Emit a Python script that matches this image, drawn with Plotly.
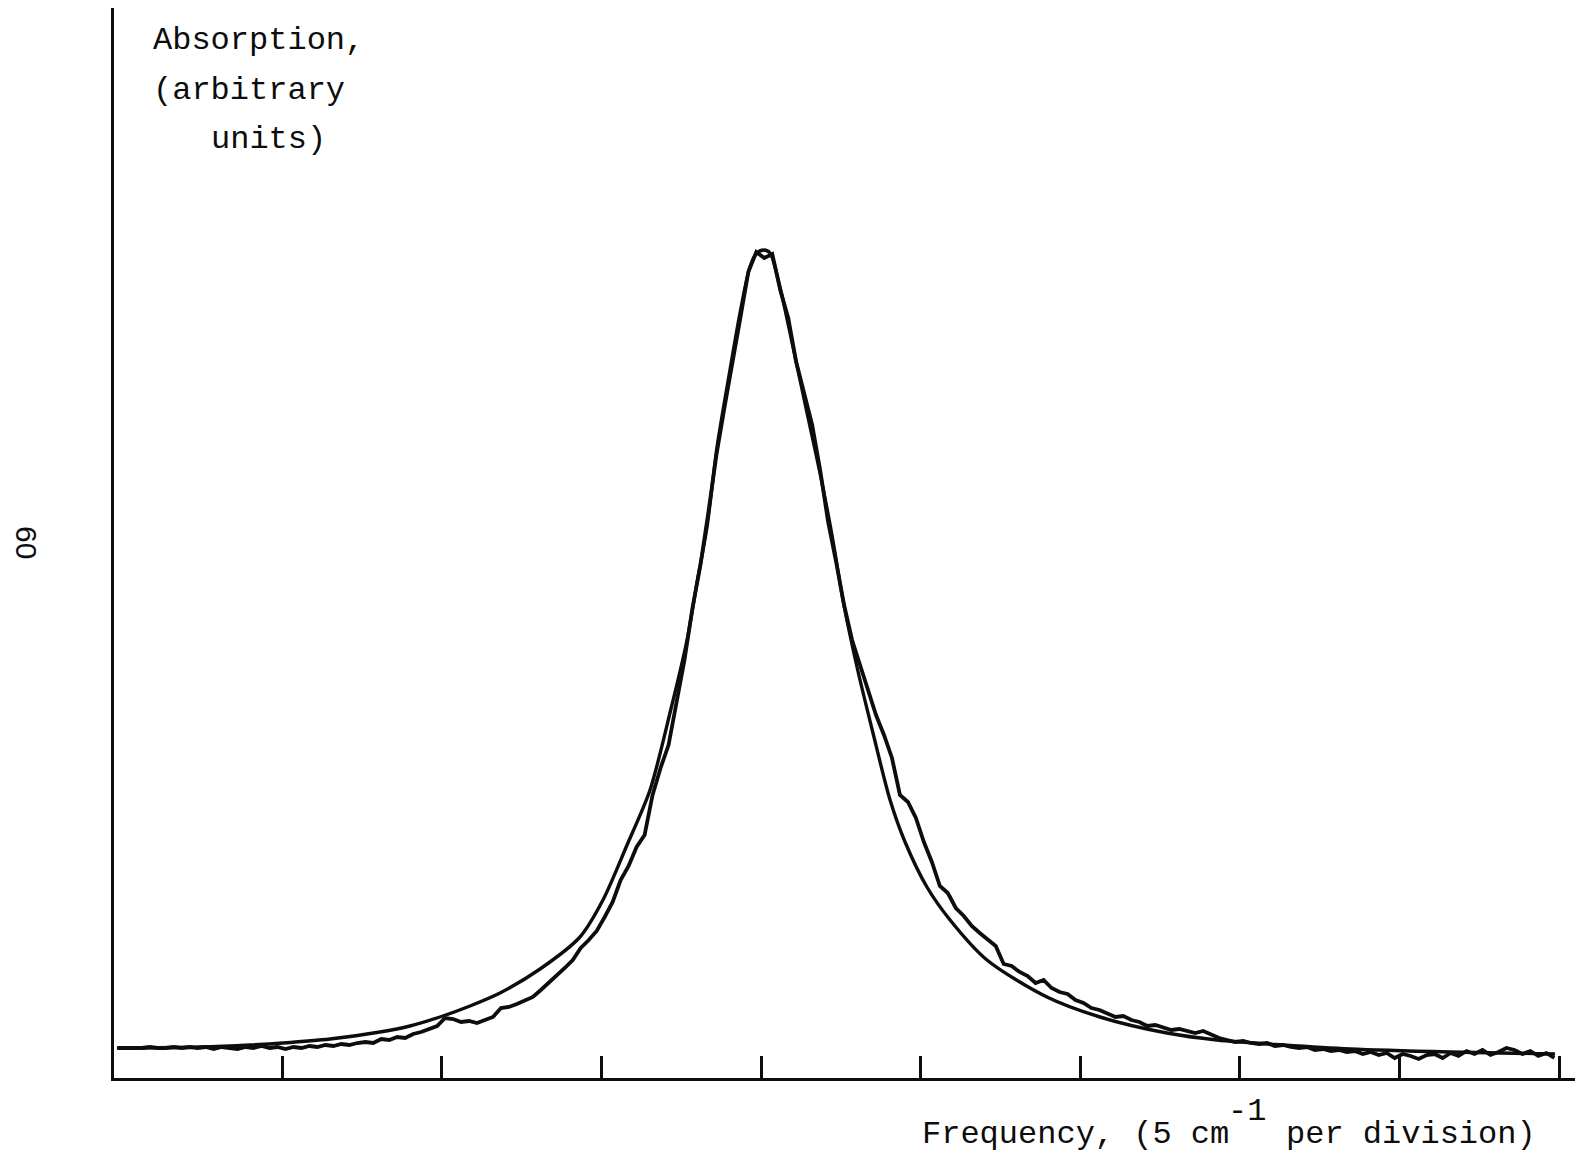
import numpy as np
import plotly.graph_objects as go

# Recorded absorption profile, sampled every 0.05 division (1 division = 5 cm^-1)
FREQ_START = -0.03
FREQ_STEP = 0.05
measured_abs = [
    3.0, 3.0, 3.0, 3.0, 3.1, 3.0, 3.0, 3.1, 3.0, 3.1, 3.0, 3.1, 2.9, 3.1, 3.0, 2.9, 3.1, 3.0, 3.2, 3.0, 3.1,
    2.9, 3.1, 3.0, 3.2, 3.1, 3.3, 3.2, 3.4, 3.3, 3.5, 3.6, 3.5, 3.9, 3.8, 4.1, 4.0, 4.4, 4.6, 4.9, 5.2,
    6.0, 5.9, 5.6, 5.7, 5.5, 5.8, 6.1, 7.0, 7.1, 7.4, 7.7, 8.1, 8.8, 9.5, 10.2, 11.0, 11.8, 13.0, 13.8, 14.7,
    16.1, 17.6, 19.8, 21.2, 23.1, 24.3, 28.3, 31.0, 33.3, 37.8, 41.8, 47.0, 51.3, 56.6, 62.3, 67.0, 71.3, 76.0, 80.6, 82.6,
    82.0, 82.4, 78.8, 76.0, 71.6, 68.3, 65.3, 60.8, 55.6, 51.6, 47.3, 43.8, 41.3, 38.5, 36.3, 34.3, 32.0, 28.3, 27.6, 26.0,
    23.6, 21.6, 19.2, 18.5, 17.0, 16.2, 15.2, 14.5, 13.8, 13.2, 11.4, 11.2, 10.6, 10.2, 9.5, 9.8, 9.0, 8.6, 8.4, 7.8,
    7.5, 7.0, 6.8, 6.5, 6.1, 6.2, 5.8, 5.6, 5.2, 5.3, 5.0, 4.8, 4.9, 4.7, 4.5, 4.7, 4.3, 4.0, 3.8, 3.6,
    3.7, 3.5, 3.4, 3.5, 3.2, 3.3, 3.1, 3.0, 3.1, 2.8, 2.9, 2.7, 2.8, 2.6, 2.7, 2.4, 2.6, 2.3, 2.5, 2.0,
    2.4, 2.2, 1.9, 2.3, 2.4, 2.0, 2.5, 2.2, 2.7, 2.4, 2.8, 2.3, 2.6, 3.0, 2.8, 2.4, 2.7, 2.2, 2.5, 2.0,
]
measured_freq = FREQ_START + FREQ_STEP * np.arange(len(measured_abs))

# Fitted line shape
fit_freq = [
    -0.036, 0.484, 0.798, 1.004, 1.299, 1.612, 1.800, 1.988, 2.176, 2.364,
    2.615, 2.865, 3.009, 3.160, 3.304, 3.429, 3.536, 3.598, 3.661, 3.724,
    3.805, 3.868, 3.930, 3.974, 4.018, 4.056, 4.118, 4.200, 4.288, 4.369,
    4.444, 4.513, 4.601, 4.701, 4.808, 4.902, 5.039, 5.184, 5.415, 5.791,
    6.123, 6.543, 6.856, 7.270, 7.690, 8.316, 8.974,
]
fit_abs = [
    3.0, 3.1, 3.3, 3.5, 3.9, 4.6, 5.2, 6.1, 7.2, 8.5,
    10.9, 14.1, 17.8, 23.3, 28.8, 36.5, 43.8, 49.5, 55.1, 63.1,
    70.8, 76.5, 81.1, 82.5, 82.8, 82.5, 79.1, 73.1, 66.5, 60.5,
    54.3, 47.8, 41.1, 34.5, 27.8, 23.6, 19.1, 15.8, 11.8, 8.1,
    6.1, 4.5, 3.8, 3.3, 2.9, 2.6, 2.4,
]

tick_divisions = [1, 2, 3, 4, 5, 6, 7, 8, 9]

y_label_lines = ["Absorption,", "(arbitrary", "units)"]
x_label_main = "Frequency, (5 cm"
x_label_exp = "-1"
x_label_tail = "per division)"
page_number = "60"

# Page / frame geometry
W, H = 1576, 1157
M_L, M_R, M_T, M_B = 114, 1, 8, 79
PLOT_W = W - M_L - M_R
PLOT_H = H - M_T - M_B

MONO = "Liberation Mono, Courier New, monospace"
INK = "#0d0d0d"


def px_x(p):
    return (p - M_L) / PLOT_W


def px_y(p):
    return (H - M_B - p) / PLOT_H


fig = go.Figure()

fig.add_trace(go.Scatter(
    x=fit_freq, y=fit_abs, mode="lines",
    line=dict(color=INK, width=3.4, shape="spline", smoothing=0.8),
    hoverinfo="skip", showlegend=False,
))
fig.add_trace(go.Scatter(
    x=measured_freq, y=measured_abs, mode="lines",
    line=dict(color=INK, width=3.8, shape="linear"),
    hoverinfo="skip", showlegend=False,
))

annotations = []
# vertical axis caption, three lines
for text, lx, cy in zip(y_label_lines, [151, 151, 209], [40, 90, 139]):
    annotations.append(dict(
        text=text, x=px_x(lx), y=px_y(cy), xref="paper", yref="paper",
        xanchor="left", yanchor="middle", showarrow=False,
        font=dict(family=MONO, size=32, color=INK),
    ))
# horizontal axis caption with raised exponent
annotations.append(dict(
    text=x_label_main, x=px_x(920), y=px_y(1134), xref="paper", yref="paper",
    xanchor="left", yanchor="middle", showarrow=False,
    font=dict(family=MONO, size=32, color=INK),
))
annotations.append(dict(
    text=x_label_exp, x=px_x(1226), y=px_y(1111), xref="paper", yref="paper",
    xanchor="left", yanchor="middle", showarrow=False,
    font=dict(family=MONO, size=32, color=INK),
))
annotations.append(dict(
    text=x_label_tail, x=px_x(1284), y=px_y(1134), xref="paper", yref="paper",
    xanchor="left", yanchor="middle", showarrow=False,
    font=dict(family=MONO, size=32, color=INK),
))
# page number, turned sideways
annotations.append(dict(
    text=page_number, x=px_x(27), y=px_y(542), xref="paper", yref="paper",
    xanchor="center", yanchor="middle", showarrow=False, textangle=90,
    font=dict(family="Liberation Sans, Arial, sans-serif", size=30, color=INK),
))

x_lo = (M_L - 122.7) / 159.6
x_hi = (W - M_R - 122.7) / 159.6

fig.update_layout(
    width=W, height=H,
    margin=dict(l=M_L, r=M_R, t=M_T, b=M_B, pad=0),
    paper_bgcolor="white", plot_bgcolor="white",
    showlegend=False,
    annotations=annotations,
    xaxis=dict(
        range=[x_lo, x_hi], showgrid=False, zeroline=False,
        showline=True, linecolor=INK, linewidth=2.8,
        ticks="inside", tickvals=tick_divisions, ticklen=22, tickwidth=2.8,
        tickcolor=INK, showticklabels=False, fixedrange=True,
    ),
    yaxis=dict(
        range=[0, PLOT_H / 10.0], showgrid=False, zeroline=False,
        showline=True, linecolor=INK, linewidth=2.8,
        ticks="", showticklabels=False, fixedrange=True,
    ),
)

fig.write_html("out.html")
